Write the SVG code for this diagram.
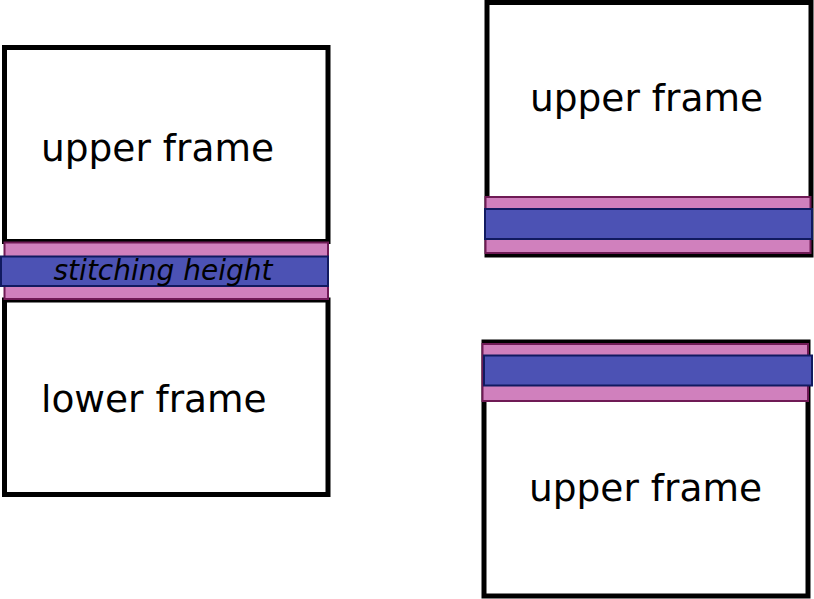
<svg xmlns="http://www.w3.org/2000/svg" width="814" height="599" viewBox="0 0 814 599">
<style>
.frame{fill:#ffffff;stroke:#000000;stroke-width:5}
.pink{fill:#d080bd;stroke:#6f1a55;stroke-width:2}
.blue{fill:#4c52b4;stroke:#111a60;stroke-width:2}
.lbl{font-family:"DejaVu Sans",sans-serif;font-size:37.5px;fill:#000}
.st{font-family:"DejaVu Sans",sans-serif;font-size:28px;font-style:italic;fill:#000}
</style>
<rect width="814" height="599" fill="#ffffff"/>
<g id="left-upper-frame">
<rect class="frame" x="4.5" y="47.5" width="323.5" height="194"/>
<text class="lbl" x="41" y="161">upper frame</text>
</g>
<g id="left-lower-frame">
<rect class="frame" x="4.5" y="300" width="323.5" height="194.5"/>
<text class="lbl" x="41" y="412">lower frame</text>
</g>
<g id="left-stitch">
<rect class="pink" x="4.5" y="242.5" width="323.5" height="56.5"/>
<rect class="blue" x="1" y="256.5" width="327" height="29.5"/>
<text class="st" x="163" y="280" text-anchor="middle">stitching height</text>
</g>
<g id="right-top-frame">
<rect class="frame" x="487" y="2.5" width="324" height="252.5"/>
<text class="lbl" x="530" y="111">upper frame</text>
<rect class="pink" x="485.5" y="197" width="325" height="56"/>
<rect class="blue" x="485" y="209" width="327" height="30"/>
</g>
<g id="right-bottom-frame">
<rect class="frame" x="484" y="342" width="324" height="254"/>
<text class="lbl" x="529" y="501">upper frame</text>
<rect class="pink" x="482.5" y="344" width="325.5" height="57"/>
<rect class="blue" x="484" y="355.5" width="328" height="30"/>
</g>
<g id="connectors"/>
</svg>
